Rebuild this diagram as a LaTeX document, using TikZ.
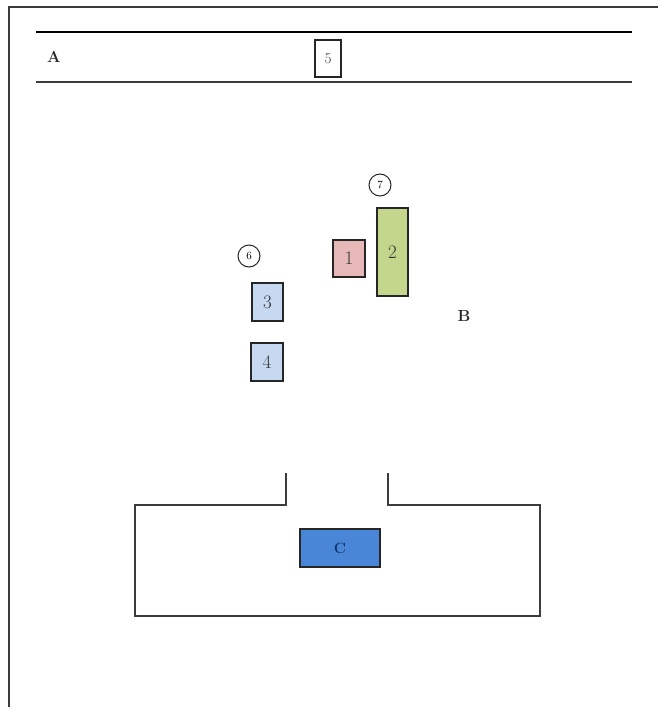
\documentclass[tikz,border=0pt]{standalone}
\usepackage{fontspec}
\setmainfont{Latin Modern Roman}
\usepackage{tikz}
\definecolor{pinkfill}{RGB}{230,184,183}
\definecolor{greenfill}{RGB}{196,214,140}
\definecolor{bluefill}{RGB}{198,217,241}
\definecolor{cfill}{RGB}{74,134,216}
\definecolor{ctext}{RGB}{20,50,110}
\definecolor{linegray}{RGB}{60,60,60}
\tikzset{
  px/.style={x=1pt,y=-1pt},
  box/.style={draw=black!85,line width=1.3pt,inner sep=0pt,font=\fontsize{19}{20}\selectfont,text=black!80},
  circ/.style={draw=black!85,line width=1pt,circle,minimum size=22pt,inner sep=0pt,font=\fontsize{11}{12}\selectfont},
  lbl/.style={font=\fontsize{16}{17}\selectfont\bfseries,inner sep=0pt,text=black!85},
  wall/.style={draw=linegray,line width=1.3pt}
}
\begin{document}
\begin{tikzpicture}[px]
\useasboundingbox (0,0) rectangle (658,707);
\fill[white] (0,0) rectangle (658,707);
% outer frame
\coordinate (fl) at (9,707);
\coordinate (ftl) at (9,7);
\coordinate (ftr) at (658,7);
\draw[linegray,line width=1.2pt] (fl) -- (ftl) -- (ftr);
% header lines
\coordinate (h1a) at (36,32); \coordinate (h1b) at (632,32);
\coordinate (h2a) at (36,82); \coordinate (h2b) at (632,82);
\draw[black,line width=2.6pt] (h1a) -- (h1b);
\draw[linegray,line width=1.3pt] (h2a) -- (h2b);
\node[lbl] (A) at (54,57) {A};
\node[box,minimum width=26pt,minimum height=37pt,line width=1.2pt,font=\fontsize{15}{16}\selectfont] (five) at (328,58.5) {5};
% circles
\node[circ] (seven) at (380,185) {7};
\node[circ] (six) at (249,256) {6};
% boxes
\node[box,fill=greenfill,minimum width=31pt,minimum height=88pt] (two) at (392.5,252) {2};
\node[box,fill=pinkfill,minimum width=32pt,minimum height=37pt] (one) at (349,258.5) {1};
\node[box,fill=bluefill,minimum width=31pt,minimum height=38pt] (three) at (267.5,302) {3};
\node[box,fill=bluefill,minimum width=32pt,minimum height=38pt] (four) at (267,362) {4};
\node[lbl] (B) at (464,316) {B};
% bottom enclosure
\coordinate (p1) at (286,473);
\coordinate (p2) at (286,505);
\coordinate (p3) at (135,505);
\coordinate (p4) at (135,616);
\coordinate (p5) at (540,616);
\coordinate (p6) at (540,505);
\coordinate (p7) at (388,505);
\coordinate (p8) at (388,473);
\draw[wall] (p1) -- (p2) -- (p3) -- (p4) -- (p5) -- (p6) -- (p7) -- (p8);
\node[box,fill=cfill,text=ctext,minimum width=80pt,minimum height=38pt,font=\fontsize{15}{16}\selectfont\bfseries] (C) at (340,548) {C};
\end{tikzpicture}
\end{document}
